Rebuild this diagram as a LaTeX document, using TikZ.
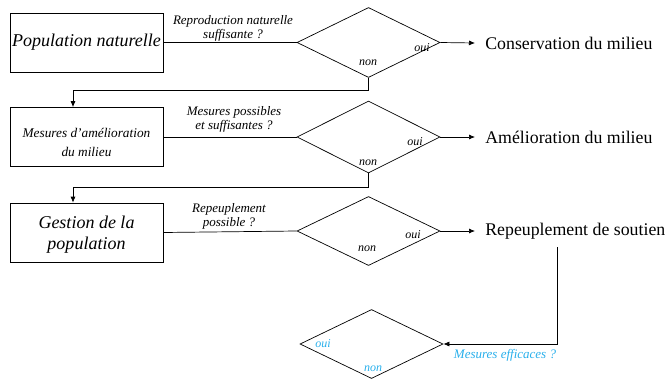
\documentclass[tikz,border=0pt]{standalone}
\usepackage{fontspec}
\setmainfont{Liberation Serif}
\usetikzlibrary{shapes.geometric,arrows.meta}
\definecolor{lblue}{RGB}{40,175,235}
\begin{document}
\begin{tikzpicture}[x=1pt,y=-1pt, line width=0.7pt,
  box/.style={draw, minimum width=153pt, minimum height=59pt, inner sep=0pt, align=center},
  boxtext/.style={align=center, inner sep=0pt},
  dia/.style={draw, diamond, minimum width=143pt, minimum height=70pt, inner sep=0pt},
  q/.style={font=\fontsize{13}{14.5}\selectfont\itshape, align=center, inner sep=0pt},
  yn/.style={font=\fontsize{12}{14}\selectfont\itshape, inner sep=0pt},
  res/.style={font=\fontsize{17.8}{20}\selectfont, anchor=west, inner ysep=0pt, inner xsep=10pt},
  arr/.style={-{Latex[length=6pt,width=5pt]}}
]
\useasboundingbox (0,0) rectangle (668,380);
% boxes
\node[box, font=\fontsize{18}{21}\selectfont\itshape] (b1) at (86.5,42.5) {Population naturelle};
\node[box] (b2) at (86.5,137) {};
\node[boxtext, font=\fontsize{13.3}{19}\selectfont\itshape] (t2) at (86.5,142) {Mesures d'amélioration\\du milieu};
\node[box] (b3) at (86.5,232.5) {};
\node[boxtext, font=\fontsize{18}{21}\selectfont\itshape] (t3) at (86.5,234.5) {Gestion de la\\population};
% diamonds
\node[dia] (d1) at (368.5,42.5) {};
\node[dia, minimum height=72pt] (d2) at (368.5,137) {};
\node[dia, minimum height=69pt] (d3) at (368.5,231) {};
\node[dia, minimum height=69pt] (d4) at (371.5,344) {};
% results
\node[res] (r1) at (475,43) {Conservation du milieu};
\node[res] (r2) at (475,137) {Amélioration du milieu};
\node[res] (r3) at (475,231) {Repeuplement de soutien};
% question labels
\node[q] (q1) at (233,28.5) {Reproduction naturelle\\suffisante ?};
\node[q] (q2) at (234,119.5) {Mesures possibles\\et suffisantes ?};
\node[q] (q3) at (229,216.5) {Repeuplement\\possible ?};
\node[q, text=lblue] (q4) at (505,355) {Mesures efficaces ?};
% oui / non
\node[yn] (o1) at (422,48) {oui};
\node[yn] (n1) at (368,63) {non};
\node[yn] (o2) at (415,142) {oui};
\node[yn] (n2) at (368,163) {non};
\node[yn] (o3) at (413,235) {oui};
\node[yn] (n3) at (367,249) {non};
\node[yn, text=lblue] (o4) at (323,344) {oui};
\node[yn, text=lblue] (n4) at (373,369) {non};
% connectors
\draw (b1.east) -- (d1.west);
\draw (b2.east) -- (d2.west);
\draw (b3.east) -- (d3.west);
\draw[arr] (d1.east) -- (r1.west);
\draw[arr] (d2.east) -- (r2.west);
\draw[arr] (d3.east) -- (r3.west);
\coordinate (k1) at (73,90);
\coordinate (k2) at (73,187);
\draw[arr] (d1.south) |- (k1) -- (k1 |- b2.north);
\draw[arr] (d2.south) |- (k2) -- (k2 |- b3.north);
\coordinate (s3) at (557,247);
\draw[arr] (s3) |- (d4.east);
\end{tikzpicture}
\end{document}
